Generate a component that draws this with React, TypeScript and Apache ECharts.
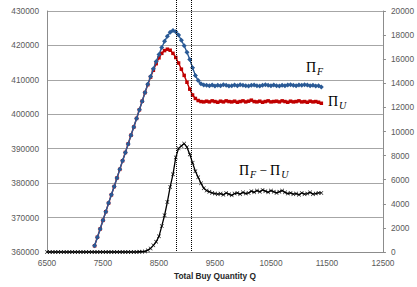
import React, { useEffect, useRef } from "react";
import * as echarts from "echarts";

const quantities = [
  6500, 6550, 6600, 6650, 6700, 6750, 6800, 6850, 6900, 6950,
  7000, 7050, 7100, 7150, 7200, 7250, 7300, 7350, 7400, 7450,
  7500, 7550, 7600, 7650, 7700, 7750, 7800, 7850, 7900, 7950,
  8000, 8050, 8100, 8150, 8200, 8250, 8300, 8350, 8400, 8450,
  8500, 8550, 8600, 8650, 8700, 8750, 8800, 8850, 8900, 8950,
  9000, 9050, 9100, 9150, 9200, 9250, 9300, 9350, 9400, 9450,
  9500, 9550, 9600, 9650, 9700, 9750, 9800, 9850, 9900, 9950,
  10000, 10050, 10100, 10150, 10200, 10250, 10300, 10350, 10400, 10450,
  10500, 10550, 10600, 10650, 10700, 10750, 10800, 10850, 10900, 10950,
  11000, 11050, 11100, 11150, 11200, 11250, 11300, 11350, 11400,
];

// Π_F (left axis)
const piF = [
  null, null, null, null, null, null, null, null, null, null,
  null, null, null, null, null, null, null, 361800, 364300, 366700,
  369200, 371700, 374200, 376600, 379000, 381500, 384000, 386500, 388900, 391400,
  393900, 396300, 398800, 401300, 403800, 406300, 408700, 411000, 413200, 415300,
  417400, 419400, 421200, 422700, 423800, 424300, 424000, 423000, 421500, 419900,
  418000, 415900, 413500, 411300, 409800, 408900, 408500, 408400, 408300, 408500,
  408200, 408400, 408300, 408600, 408400, 408200, 408300, 408500, 408300, 408600,
  408400, 408300, 408200, 408400, 408500, 408300, 408200, 408400, 408600, 408400,
  408300, 408500, 408300, 408200, 408400, 408300, 408500, 408600, 408400, 408300,
  408500, 408400, 408600, 408500, 408300, 408400, 408200, 408300, 407900,
];

// Π_U (left axis)
const piU = [
  null, null, null, null, null, null, null, null, null, null,
  null, null, null, null, null, null, null, 361800, 364300, 366700,
  369200, 371700, 374200, 376600, 379000, 381500, 384000, 386500, 388900, 391400,
  393900, 396300, 398800, 401300, 403800, 406300, 408600, 410800, 412800, 414700,
  416400, 417700, 418500, 418900, 418600, 417700, 416500, 414900, 413100, 411300,
  409300, 407300, 405600, 404600, 404000, 403700, 403600, 403800, 403600, 403900,
  403700, 403500, 403800, 403600, 403900, 403700, 403600, 403800, 403500, 403700,
  403900, 403600, 403800, 404100, 403700, 403600, 403800, 403500, 403700, 403900,
  403600, 403700, 403800, 403600, 403900, 403700, 403500, 403800, 403600, 403700,
  403900, 403600, 403700, 403500, 403800, 403600, 403700, 403500, 403200,
];

// Π_F − Π_U (right axis)
const piDiff = [
  0, 0, 0, 0, 0, 0, 0, 0, 0, 0,
  0, 0, 0, 0, 0, 0, 0, 0, 0, 0,
  0, 0, 0, 0, 0, 0, 0, 0, 0, 0,
  0, 0, 0, 20, 30, 50, 150, 300, 550, 850,
  1300, 2150, 3050, 4150, 5400, 6450, 7850, 8600, 8800, 9000,
  8700, 8100, 7400, 6700, 6200, 5700, 5300, 5100, 5000, 4900,
  4850, 4800, 4850, 4750, 4900, 4800, 4700, 4850, 4900, 4800,
  4950, 4850, 4900, 5050, 4950, 5100, 5000, 5150, 5050, 4950,
  5100, 5000, 4900, 5000, 5100, 4950, 4850, 4900, 4800, 4850,
  4750, 4900, 4800, 4850, 4950, 4800, 4850, 4900, 4900,
];

const markQuantities = [8800, 9075];
const xLabelTicks = [6500, 7500, 8500, 9500, 10500, 11500, 12500];

const FONT = "Liberation Sans, Arial, sans-serif";
const SERIF = "Liberation Serif, DejaVu Serif, serif";

const xSymbol = "path://M0,1L1,0L5,4L9,0L10,1L6,5L10,9L9,10L5,6L1,10L0,9L4,5Z";

const richMath = {
  p: { fontFamily: SERIF, fontSize: 14, color: "#1a1a1a" },
  s: { fontFamily: SERIF, fontSize: 10, fontStyle: "italic", color: "#1a1a1a", padding: [8, 0, 0, 1] },
  m: { fontFamily: SERIF, fontSize: 13, color: "#1a1a1a" },
};

export default function App() {
  const ref = useRef<HTMLDivElement>(null);
  useEffect(() => {
    if (!ref.current) return;
    document.body.style.margin = "0";
    const chart = echarts.init(ref.current, null, { renderer: "svg" });
    const pairs = (arr: (number | null)[]) => quantities.map((q, i) => [q, arr[i]]);
    const labelStyle = { fontSize: 8.3, color: "#595959", fontFamily: FONT };
    chart.setOption({
      animation: false,
      backgroundColor: "#ffffff",
      grid: { left: 47, right: 31, top: 11, bottom: 35, containLabel: false },
      xAxis: {
        type: "value",
        min: 6500,
        max: 12500,
        interval: 500,
        axisLine: { show: true, lineStyle: { color: "#8c8c8c", width: 1 } },
        axisTick: { show: false },
        splitLine: { show: false },
        axisLabel: {
          ...labelStyle,
          margin: 7,
          formatter: (v: number) => (xLabelTicks.indexOf(v) >= 0 ? String(v) : ""),
        },
        name: "Total Buy Quantity Q",
        nameLocation: "middle",
        nameGap: 20,
        nameTextStyle: { fontWeight: "bold", fontSize: 8.3, color: "#262626", fontFamily: FONT },
      },
      yAxis: [
        {
          type: "value",
          position: "left",
          min: 360000,
          max: 430000,
          interval: 10000,
          axisLine: { show: true, lineStyle: { color: "#8c8c8c", width: 1 } },
          axisTick: { show: false },
          splitLine: { show: true, lineStyle: { color: "#a6a6a6", width: 1 } },
          axisLabel: { ...labelStyle, margin: 8, formatter: (v: number) => String(v) },
        },
        {
          type: "value",
          position: "right",
          min: 0,
          max: 20000,
          interval: 2000,
          axisLine: { show: true, lineStyle: { color: "#8c8c8c", width: 1 } },
          axisTick: { show: true, length: 3, lineStyle: { color: "#8c8c8c" } },
          splitLine: { show: false },
          axisLabel: { ...labelStyle, margin: 8, formatter: (v: number) => String(v) },
        },
      ],
      series: [
        {
          name: "Π_U",
          type: "line",
          yAxisIndex: 0,
          data: pairs(piU),
          symbol: "square",
          symbolSize: 3.5,
          lineStyle: { color: "#c00000", width: 1.4 },
          itemStyle: { color: "#c00000" },
          z: 2,
        },
        {
          name: "Π_F",
          type: "line",
          yAxisIndex: 0,
          data: pairs(piF),
          symbol: "diamond",
          symbolSize: 5,
          lineStyle: { color: "#2a5a96", width: 1.4 },
          itemStyle: { color: "#2a5a96" },
          z: 3,
        },
        {
          name: "Π_F − Π_U",
          type: "line",
          yAxisIndex: 1,
          data: pairs(piDiff),
          symbol: xSymbol,
          symbolSize: 4,
          lineStyle: { color: "#000000", width: 1.3 },
          itemStyle: { color: "#000000" },
          z: 4,
          markLine: {
            silent: true,
            symbol: "none",
            label: { show: false },
            lineStyle: { type: "dotted", color: "#000000", width: 1 },
            data: markQuantities.map((q) => [{ xAxis: q, y: 0 }, { xAxis: q, yAxis: 0 }]),
          },
        },
      ],
      graphic: [
        { type: "text", left: 306, top: 60, style: { text: "{p|Π}{s|F}", rich: richMath } },
        { type: "text", left: 328, top: 94, style: { text: "{p|Π}{s|U}", rich: richMath } },
        { type: "text", left: 239, top: 163, style: { text: "{p|Π}{s|F}{m| − }{p|Π}{s|U}", rich: richMath } },
      ],
    });
    return () => chart.dispose();
  }, []);
  return <div ref={ref} style={{ width: 417, height: 287 }} />;
}
